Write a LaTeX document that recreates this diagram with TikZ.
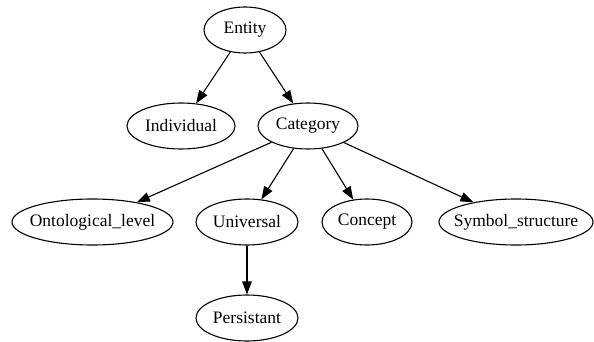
\documentclass[tikz,border=0pt]{standalone}
\usepackage{fontspec}
\setmainfont{Liberation Serif}
\usetikzlibrary{shapes.geometric,arrows.meta}
% zero-width label box so the ellipse size comes from the minimum width/height only
\newcommand\nodetext[1]{\makebox[0pt]{#1}}
\begin{document}
\begin{tikzpicture}[x=1pt,y=-1pt,
  term/.style={draw, ellipse, line width=1.1pt, inner sep=0pt,
    minimum height=46pt, font=\fontsize{17.5}{20}\selectfont},
  link/.style={line width=1.1pt, -{Triangle[length=13pt,width=9.5pt]}}]
\useasboundingbox (0,0) rectangle (594,342);

% rank 1
\node[term, minimum width=82pt]  (entity)     at (245,30)   {\nodetext{Entity}};
% rank 2
\node[term, minimum width=108pt] (individual) at (181,126)  {\nodetext{Individual}};
\node[term, minimum width=100pt] (category)   at (308,126)  {\nodetext{Category}};
% rank 3
\node[term, minimum width=161pt] (ontolevel)  at (92.5,222) {\nodetext{Ontological\_level}};
\node[term, minimum width=102pt] (universal)  at (247,222)  {\nodetext{Universal}};
\node[term, minimum width=90pt]  (concept)    at (367,222)  {\nodetext{Concept}};
\node[term, minimum width=154pt] (symbol)     at (516,222)  {\nodetext{Symbol\_structure}};
% rank 4
\node[term, minimum width=102pt] (persistant) at (247,318)  {\nodetext{Persistant}};

\draw[link] (entity) -- (individual);
\draw[link] (entity) -- (category);
\draw[link] (category) -- (ontolevel);
\draw[link] (category) -- (universal);
\draw[link] (category) -- (concept);
\draw[link] (category) -- (symbol);
\draw[link] (universal) -- (persistant);
\end{tikzpicture}
\end{document}
